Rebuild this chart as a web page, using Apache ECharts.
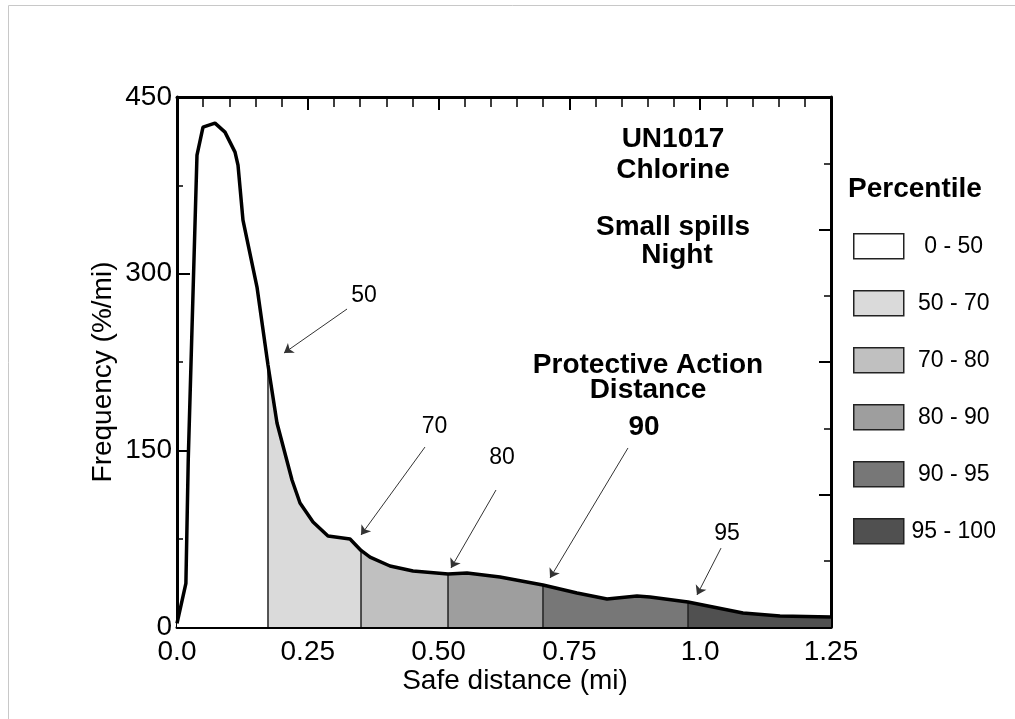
<!DOCTYPE html>
<html><head><meta charset="utf-8">
<script src="https://cdn.jsdelivr.net/npm/echarts@6/dist/echarts.min.js"></script>
<style>html,body{margin:0;padding:0;background:#fff}#c{width:1015px;height:719px}</style>
</head><body><div id="c"></div>
<script>
// ---- data ----
const distance = [0, 0.017, 0.0215, 0.0382, 0.0497, 0.0726, 0.0917, 0.1109, 0.1166, 0.1261, 0.1529, 0.1739,
  0.1911, 0.2198, 0.2351, 0.26, 0.2886, 0.3307, 0.3517, 0.3689, 0.4071, 0.4511, 0.518, 0.5543, 0.6173,
  0.6995, 0.7645, 0.8219, 0.8792, 0.904, 0.9767, 1.0245, 1.0818, 1.1525, 1.25];
const frequency = [3, 37, 142, 400.7, 424.4, 427.8, 420.2, 403.2, 392.2, 345.5, 288.6, 222.4,
  173.2, 124.8, 105.3, 89.1, 77.2, 74.7, 65, 59.4, 51.8, 47.5, 45, 45.8, 42.4,
  35.7, 28.9, 23.8, 26.3, 25.5, 21.2, 17, 11.9, 9.3, 8.5];
const percentileEdges = [0, 0.1739, 0.3517, 0.518, 0.6995, 0.9767, 1.25];
const percentileNames = ['0 - 50', '50 - 70', '70 - 80', '80 - 90', '90 - 95', '95 - 100'];
const xTickLabels = ['0.0', '0.25', '0.50', '0.75', '1.0', '1.25'];
const yTickLabels = ['0', '150', '300', '450'];

// ---- styles ----
const bandColors = ['#ffffff', '#dadada', '#c0c0c0', '#9e9e9e', '#777777', '#505050'];
const FONT = "'Liberation Sans', Arial, Helvetica, sans-serif";

// annotation texts & arrows (data units)
const notes = [
  {t: '50', at: [0.3574, 281], size: 23},
  {t: '70', at: [0.4922, 169.8], size: 23},
  {t: '80', at: [0.6212, 143.5], size: 23},
  {t: '95', at: [1.0512, 78.9], size: 23},
  {t: 'UN1017', at: [0.948, 414.3], size: 28, bold: true},
  {t: 'Chlorine', at: [0.948, 388], size: 28, bold: true},
  {t: 'Small spills', at: [0.948, 339.6], size: 28, bold: true},
  {t: 'Night', at: [0.9557, 315.8], size: 28, bold: true},
  {t: 'Protective Action', at: [0.9002, 222.4], size: 28, bold: true},
  {t: 'Distance', at: [0.9002, 201.2], size: 28, bold: true},
  {t: '90', at: [0.8926, 169.8], size: 28, bold: true}
];
const arrows = [
  [[0.325, 270], [0.2045, 232.6]],
  [[0.474, 152.8], [0.3517, 78.1]],
  [[0.6097, 116.3], [0.5237, 50.1]],
  [[0.862, 152], [0.713, 41.6]],
  [[1.0398, 67], [0.9939, 27.2]]
];

const pts = distance.map((d, i) => [d, frequency[i]]);
const idxOf = e => distance.indexOf(e);

const series = [];
percentileNames.forEach((name, k) => {
  const a = idxOf(percentileEdges[k]), b = idxOf(percentileEdges[k + 1]);
  series.push({
    name, type: 'line', data: pts.slice(a, b + 1), showSymbol: false, symbol: 'none',
    lineStyle: {width: 0, opacity: 0}, itemStyle: {color: bandColors[k]},
    areaStyle: {color: bandColors[k], opacity: 1}, z: 1, silent: true
  });
});
percentileEdges.slice(1, -1).forEach(e => {
  const i = idxOf(e);
  series.push({
    type: 'line', data: [[distance[i], 0], [distance[i], frequency[i]]], symbol: 'none',
    lineStyle: {color: '#222', width: 1.5}, z: 2, silent: true
  });
});
series.push({
  type: 'line', data: pts, symbol: 'none', lineStyle: {color: '#000', width: 3.5}, z: 5, silent: true,
  markLine: {
    silent: true, symbol: ['none', 'arrow'], symbolSize: 9, label: {show: false},
    lineStyle: {color: '#333', width: 1, type: 'solid'}, animation: false,
    data: arrows.map(a => [{coord: a[0]}, {coord: a[1]}])
  }
});

const axisLineStyle = {lineStyle: {color: '#000', width: 3}, onZero: false};
const chart = echarts.init(document.getElementById('c'));
chart.setOption({
  animation: false,
  textStyle: {fontFamily: FONT},
  grid: {left: 177, right: 184, top: 97, bottom: 92},
  legend: {
    data: percentileNames, orient: 'vertical', left: 848, top: 228,
    itemWidth: 50, itemHeight: 25, itemGap: 30.5, icon: 'rect', selectedMode: false,
    itemStyle: {borderColor: '#222', borderWidth: 1.5},
    formatter: n => '{a|' + n + '}',
    textStyle: {color: '#000', fontSize: 23,
      rich: {a: {width: 90, align: 'center', fontSize: 23, color: '#000'}}}
  },
  xAxis: [{
    type: 'value', min: 0, max: 1.25, interval: 0.25, position: 'bottom',
    axisLine: axisLineStyle,
    axisTick: {inside: true, length: 13, lineStyle: {color: '#000', width: 2}},
    minorTick: {show: true, splitNumber: 5, length: 10, lineStyle: {color: '#000', width: 1.5}},
    splitLine: {show: false}, minorSplitLine: {show: false},
    axisLabel: {fontSize: 28, color: '#000', margin: 11, formatter: v => xTickLabels[Math.round(v / 0.25)]},
    name: 'Safe distance (mi)', nameLocation: 'middle', nameGap: 40, nameMoveOverlap: false,
    nameTextStyle: {fontSize: 28, color: '#000', padding: [0, 0, 0, 22]}
  }, {
    type: 'value', min: 0, max: 1.25, interval: 0.25, position: 'top',
    axisLine: axisLineStyle,
    axisTick: {inside: true, length: 13, lineStyle: {color: '#000', width: 2}},
    minorTick: {show: true, splitNumber: 5, length: 10, lineStyle: {color: '#000', width: 1.5}},
    splitLine: {show: false}, minorSplitLine: {show: false}, axisLabel: {show: false}
  }],
  yAxis: [{
    type: 'value', min: 0, max: 450, interval: 150, position: 'left',
    axisLine: axisLineStyle,
    axisTick: {inside: true, length: 13, lineStyle: {color: '#000', width: 2}},
    minorTick: {show: true, splitNumber: 2, length: 6, lineStyle: {color: '#000', width: 1.5}},
    splitLine: {show: false}, minorSplitLine: {show: false},
    axisLabel: {fontSize: 28, color: '#000', margin: 5, formatter: v => yTickLabels[Math.round(v / 150)]},
    name: 'Frequency (%/mi)', nameLocation: 'middle', nameGap: 60, nameMoveOverlap: false,
    nameTextStyle: {fontSize: 28, color: '#000', padding: [0, 20, 0, 0]}
  }, {
    type: 'value', min: 0, max: 8, interval: 2, position: 'right',
    axisLine: axisLineStyle,
    axisTick: {inside: true, length: 12, lineStyle: {color: '#000', width: 2}},
    minorTick: {show: true, splitNumber: 2, length: 7, lineStyle: {color: '#000', width: 1.5}},
    splitLine: {show: false}, minorSplitLine: {show: false}, axisLabel: {show: false}
  }],
  series
});

const g = [{
  type: 'rect', shape: {x: 8.5, y: 5.5, width: 1020, height: 730}, silent: true,
  style: {fill: 'none', stroke: '#c8c8c8', lineWidth: 1}
}, {
  type: 'text', x: 915, y: 189, silent: true,
  style: {text: 'Percentile', fontSize: 28, fontWeight: 'bold', fontFamily: FONT, fill: '#000', align: 'center', verticalAlign: 'middle'}
}];
notes.forEach(n => {
  const p = chart.convertToPixel({xAxisIndex: 0, yAxisIndex: 0}, n.at);
  g.push({
    type: 'text', x: p[0], y: p[1], silent: true,
    style: {text: n.t, fontSize: n.size, fontWeight: n.bold ? 'bold' : 'normal', fontFamily: FONT,
      fill: '#000', align: 'center', verticalAlign: 'middle'}
  });
});
chart.setOption({graphic: g});
</script>
</body></html>
